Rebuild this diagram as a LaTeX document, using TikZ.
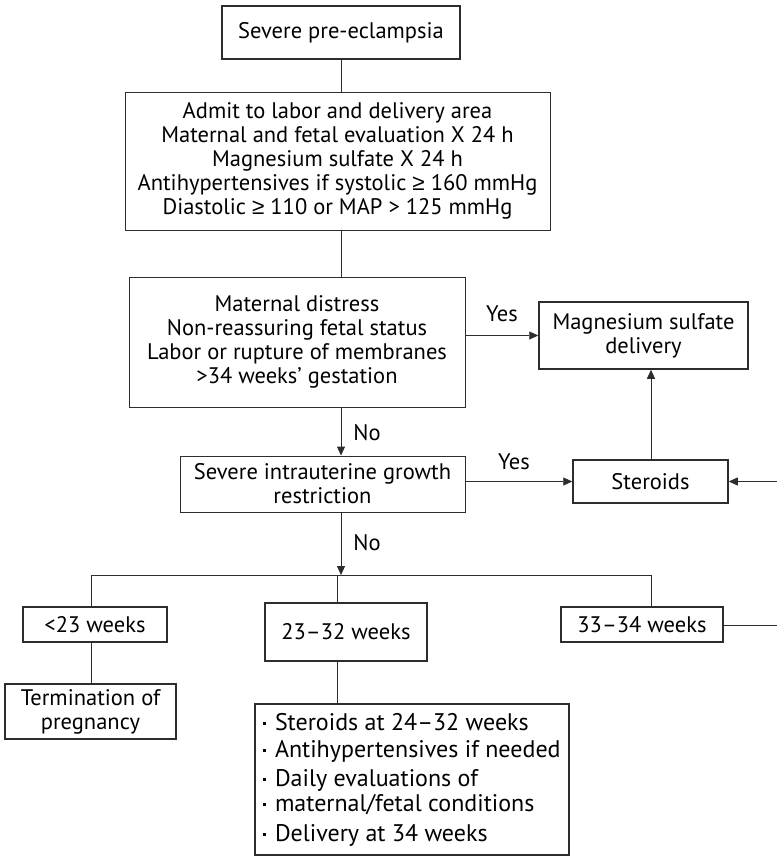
\documentclass[tikz,border=0pt]{standalone}
\usepackage{fontspec}
\setmainfont{PT Sans}
\newfontfamily\symf{Liberation Sans}
\usetikzlibrary{arrows.meta,calc}
\definecolor{linec}{RGB}{45,45,45}
\newcommand{\bul}{\raisebox{0.22em}{\rule{2.6pt}{2.6pt}}\hspace{9pt}}
\newcommand{\mygeq}{{\symf ≥}}
\begin{document}
\begin{tikzpicture}[x=1pt,y=-1pt,
  every node/.style={font=\fontsize{22.5}{24}\selectfont, text=black},
  box/.style={draw=linec, line width=0.9pt, inner sep=0pt, align=center},
  tbox/.style={box, line width=1.5pt},
  con/.style={draw=linec, line width=0.9pt},
  arr/.style={con, -{Triangle[length=9pt,width=8pt]}},
  lab/.style={inner sep=0pt}]
\useasboundingbox (0,0) rectangle (776,856);

% boxes
\node[tbox, minimum width=238, minimum height=53] (pre) at (341,32.5) {Severe pre-eclampsia};
\node[box, minimum width=425, minimum height=138] (admit) at (337.5,161)
  {Admit to labor and delivery area\\Maternal and fetal evaluation X 24 h\\Magnesium sulfate X 24 h\\Antihypertensives if systolic \mygeq{} 160 mmHg\\Diastolic \mygeq{} 110 or MAP > 125 mmHg};
\node[box, minimum width=336, minimum height=130] (dist) at (297,342)
  {Maternal distress\\Non-reassuring fetal status\\Labor or rupture of membranes\\>34 weeks’ gestation};
\node[tbox, minimum width=209, minimum height=67] (mag) at (643.5,335.5) {Magnesium sulfate\\delivery};
\node[box, minimum width=285, minimum height=56] (iugr) at (322.5,484) {Severe intrauterine growth\\restriction};
\node[tbox, minimum width=155, minimum height=43] (ster) at (650.5,481.5) {Steroids};
\node[tbox, minimum width=144, minimum height=35] (w23) at (95,624.5) {<23 weeks};
\node[tbox, minimum width=162, minimum height=58] (w2332) at (346,632) {23–32 weeks};
\node[tbox, minimum width=162, minimum height=35] (w3334) at (642,624.5) {33–34 weeks};
\node[tbox, minimum width=171, minimum height=55] (term) at (90.5,711.5) {Termination of\\pregnancy};
\node[tbox, minimum width=314, minimum height=151, align=left,
      font=\fontsize{24}{26}\selectfont] (care) at (412,779.5)
  {\bul Steroids at 24–32 weeks\\[1pt]
   \bul Antihypertensives if needed\\[3pt]
   \bul Daily evaluations of\\[-1pt]
   \bul maternal/fetal conditions\\[4pt]
   \bul Delivery at 34 weeks};

% junction coordinates
\coordinate (spine) at (341,0);
\coordinate (hub) at (341,575);
\coordinate (hl) at (91,575);
\coordinate (hm) at (337,575);
\coordinate (hr) at (651,575);
\coordinate (exR) at (792,625);

% connectors
\draw[con] (pre.south -| spine) -- (admit.north -| spine);
\draw[con] (admit.south -| spine) -- (dist.north -| spine);
\draw[arr] (dist.south -| spine) -- (iugr.north -| spine);
\draw[arr] (mag.west -| dist.east) -- (mag.west);
\draw[arr] (ster.west -| iugr.east) -- (ster.west);
\draw[arr] (ster.north -| hr) -- (mag.south -| hr);
\draw[arr] (iugr.south -| spine) -- (hub);
\draw[con] (hl) -- (hr);
\draw[con] (hl) -- (w23.north -| hl);
\draw[con] (w23.south -| hl) -- (term.north -| hl);
\draw[con] (hm) -- (w2332.north -| hm);
\draw[con] (w2332.south -| hm) -- (care.north -| hm);
\draw[con] (hr) -- (w3334.north -| hr);
\draw[arr] (w3334.east |- exR) -- (exR) -- (exR |- ster.east) -- (ster.east);

% labels
\node[lab] (y1) at (502,314) {Yes};
\node[lab] (y2) at (514,462) {Yes};
\node[lab] (n1) at (367,433) {No};
\node[lab] (n2) at (367,543) {No};
\end{tikzpicture}
\end{document}
